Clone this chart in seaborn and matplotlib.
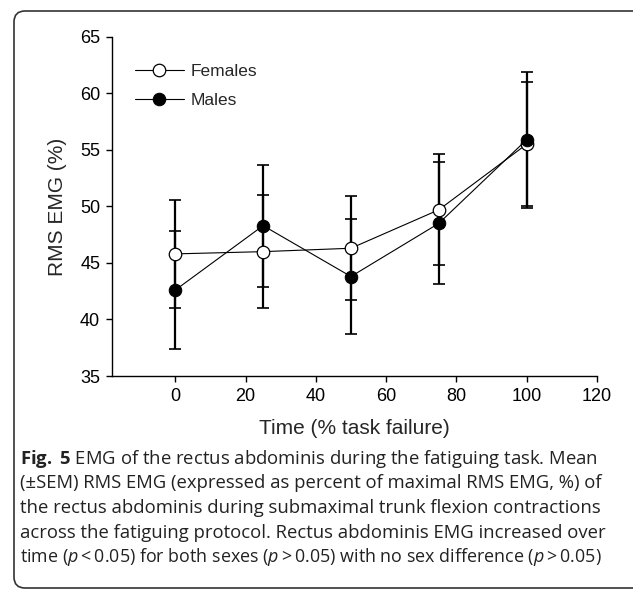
import matplotlib
matplotlib.use("Agg")
import matplotlib.pyplot as plt
import matplotlib.patches as mpatches
import matplotlib.transforms as mtransforms
import seaborn as sns
import pandas as pd

# data
time_pts = [0, 25, 50, 75, 100]
females = [45.8, 46.0, 46.3, 49.7, 55.5]
females_sem = [4.8, 5.0, 4.6, 4.9, 5.5]
males = [42.6, 48.3, 43.8, 48.5, 55.9]
males_sem = [5.2, 5.4, 5.1, 5.4, 6.0]

df = pd.DataFrame({
    "time": time_pts * 2,
    "emg": females + males,
    "sex": ["Females"] * 5 + ["Males"] * 5,
})

sns.set_style("ticks")
plt.rcParams["font.family"] = ["Liberation Sans", "DejaVu Sans"]
plt.rcParams["mathtext.fontset"] = "custom"
plt.rcParams["mathtext.rm"] = "Open Sans"
plt.rcParams["mathtext.it"] = "Open Sans:italic"
plt.rcParams["mathtext.bf"] = "Open Sans:bold"

fig = plt.figure(figsize=(6.33, 5.94), dpi=100)
ax = fig.add_axes([0.177, 0.367, 0.766, 0.571])

# error bars first, markers on top
ax.errorbar(time_pts, females, yerr=females_sem, fmt="none", ecolor="black",
            elinewidth=1.6, capsize=4, capthick=1.2, zorder=2)
ax.errorbar(time_pts, males, yerr=males_sem, fmt="none", ecolor="black",
            elinewidth=1.6, capsize=4, capthick=1.2, zorder=2)

sns.lineplot(data=df[df.sex == "Females"], x="time", y="emg", ax=ax,
             color="black", lw=0.8, marker="o", markersize=9,
             markerfacecolor="white", markeredgecolor="black", markeredgewidth=0.9,
             label="Females", zorder=3)
sns.lineplot(data=df[df.sex == "Males"], x="time", y="emg", ax=ax,
             color="black", lw=0.8, marker="o", markersize=9,
             markerfacecolor="black", markeredgecolor="black",
             label="Males", zorder=4)

ax.set_xlim(-18, 120)
ax.set_ylim(35, 65)
ax.set_xticks(range(0, 121, 20))
ax.set_yticks(range(35, 66, 5))
sns.despine(ax=ax)
for s in ["left", "bottom"]:
    ax.spines[s].set_linewidth(1.0)
    ax.spines[s].set_color("black")
ax.tick_params(direction="out", length=4.5, width=1.0, labelsize=13, colors="black", pad=4)
ax.set_xlabel("Time (% task failure)", fontsize=15, labelpad=10)
ax.set_ylabel("RMS EMG (%)", fontsize=15, labelpad=9)

leg = ax.legend(loc="upper left", frameon=False, fontsize=12.5, handlelength=2.8,
                handletextpad=0.4, bbox_to_anchor=(0.015, 0.965), labelspacing=0.75)

# rounded frame around figure + caption
frame = mpatches.FancyBboxPatch((14, 6), 640, 577, boxstyle="round,pad=0,rounding_size=11",
                                transform=mtransforms.IdentityTransform(),
                                fill=False, ec="#333333", lw=1.2)
fig.patches.append(frame)

caption = [
    r"$\bf{Fig.}$ $\bf{5}$ EMG of the rectus abdominis during the fatiguing task. Mean",
    "(±SEM) RMS EMG (expressed as percent of maximal RMS EMG, %) of",
    "the rectus abdominis during submaximal trunk flexion contractions",
    "across the fatiguing protocol. Rectus abdominis EMG increased over",
    "time ($p$\u2009<\u20090.05) for both sexes ($p$\u2009>\u20090.05) with no sex difference ($p$\u2009>\u20090.05)",
]
y0 = 459
for i, line in enumerate(caption):
    t = fig.text(20 / 633, 1 - (y0 + i * 24.5) / 594, line, fontsize=13.3,
                 family="Open Sans", va="center", ha="left", color="#222222")
    if i == 4:
        t.set_fontsize(12.9)

fig.savefig("out.png", dpi=100)
